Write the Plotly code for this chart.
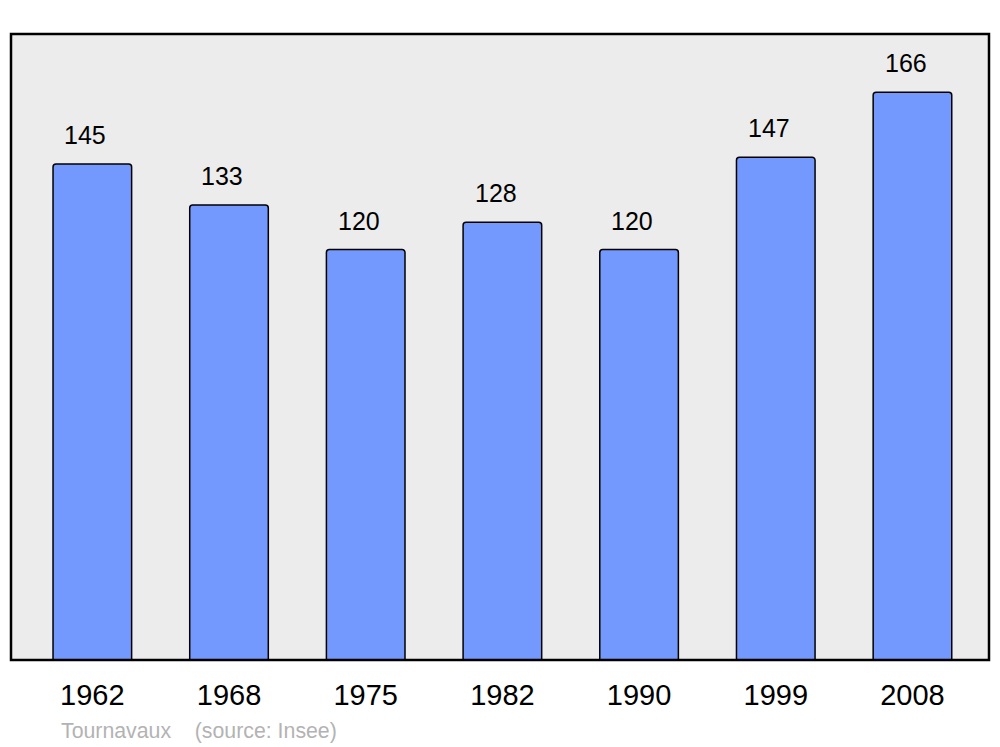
import plotly.graph_objects as go

years = ["1962", "1968", "1975", "1982", "1990", "1999", "2008"]
population = [145, 133, 120, 128, 120, 147, 166]
commune = "Tournavaux"
source = "(source: Insee)"

fig = go.Figure()
fig.add_trace(go.Bar(x=list(range(len(years))), y=population,
                     width=0.575,
                     marker_color='#7399ff',
                     marker_line=dict(color='black', width=1.5),
                     marker_cornerradius=3,
                     hoverinfo='skip'))

for i, v in enumerate(population):
    fig.add_annotation(x=i - 0.05, y=v, text=str(v), showarrow=False,
                       yanchor='bottom', yshift=13,
                       font=dict(family='Liberation Sans', size=25, color='black'))

# plot frame (page body has an 8px margin, so the figure is a bit smaller)
fig.add_shape(type='rect', xref='paper', yref='paper', x0=0, y0=0, x1=1, y1=1,
              line=dict(color='black', width=2.5), layer='above')

fig.add_annotation(xref='paper', yref='paper', x=0.049, y=-0.114,
                   xanchor='left', yanchor='middle', showarrow=False,
                   text=commune + "    " + source,
                   font=dict(family='Liberation Sans', size=21.3, color='#b3b3b3'))

fig.update_layout(width=992, height=739,
                  margin=dict(l=3, r=11, t=26, b=87),
                  paper_bgcolor='white', plot_bgcolor='#ececec',
                  showlegend=False,
                  font=dict(family='Liberation Sans', color='black'))
fig.update_xaxes(range=[-0.595, 6.56], tickvals=list(range(len(years))),
                 ticktext=years, showgrid=False, zeroline=False,
                 tickfont=dict(size=29), ticks='', ticklabelstandoff=15)
fig.update_yaxes(range=[0, 183], showticklabels=False, showgrid=False,
                 zeroline=False)

fig.write_html("out.html")
